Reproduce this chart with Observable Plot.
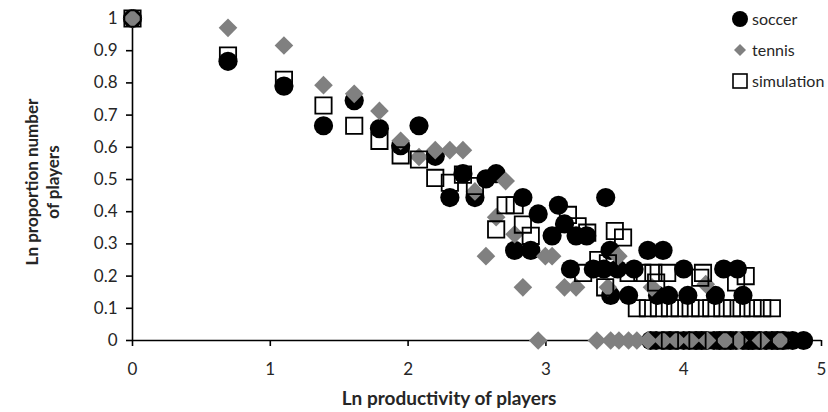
<!DOCTYPE html>
<html><head><meta charset="utf-8">
<script src="https://cdn.jsdelivr.net/npm/d3@7"></script>
<script src="https://cdn.jsdelivr.net/npm/@observablehq/plot@0.6"></script>
<style>
body{margin:0;background:#fff;}
#wrap{position:relative;width:828px;height:412px;font-family:Lato,sans-serif;color:#262626;}
#wrap svg [aria-label$="tick"] path{stroke-width:1.6px;stroke:#000;}
.ytitle{position:absolute;left:42px;top:182px;transform:translate(-50%,-50%) rotate(-90deg);font-weight:bold;font-size:17px;text-align:center;line-height:21px;white-space:nowrap;}
.xtitle{position:absolute;left:449px;top:397px;transform:translate(-50%,-50%);font-weight:bold;font-size:19px;white-space:nowrap;}
.legend{position:absolute;left:730px;top:3px;font-size:16px;}
.legend div{height:31px;display:flex;align-items:center;}
.legend svg{margin-right:2px;}
</style></head>
<body>
<div id="wrap"></div>
<script>
// soccer (black circles)
const soccerX = [0,0.693,1.099,1.386,1.609,1.792,1.946,2.079,2.197,2.303,2.398,2.485,2.565,2.639,2.773,2.833,2.890,2.944,3.045,3.091,3.135,3.178,3.219,3.296,3.344,3.420,3.434,3.466,3.520,3.470,3.600,3.640,3.740,3.850,3.810,3.890,4.000,4.030,4.230,4.290,4.390,4.430,
  3.76,3.80,3.85,3.90,3.95,4.00,4.04,4.09,4.13,4.17,4.22,4.26,4.30,4.34,4.38,4.43,4.47,4.50,4.55,4.60,4.64,4.68,4.72,4.79,4.87];
const soccerY = [1,0.867,0.79,0.667,0.745,0.658,0.605,0.667,0.572,0.444,0.518,0.444,0.502,0.518,0.28,0.444,0.28,0.393,0.325,0.42,0.362,0.222,0.325,0.325,0.222,0.222,0.444,0.28,0.222,0.14,0.14,0.222,0.28,0.28,0.14,0.14,0.222,0.14,0.14,0.222,0.222,0.14,
  0,0,0,0,0,0,0,0,0,0,0,0,0,0,0,0,0,0,0,0,0,0,0,0,0];
// tennis (grey diamonds)
const tennisX = [0,0.693,1.099,1.386,1.609,1.792,1.946,2.079,2.197,2.303,2.398,2.485,2.565,2.639,2.708,2.773,2.833,2.944,2.996,3.045,3.135,3.219,3.450,3.526,3.770,4.160,
  3.37,3.47,3.53,3.60,3.66,3.74,3.85,3.95,4.05,4.17,4.30,4.40,4.56,4.70];
const tennisY = [1,0.971,0.916,0.793,0.766,0.713,0.62,0.57,0.591,0.591,0.591,0.463,0.262,0.383,0.495,0.33,0.165,0,0.262,0.262,0.165,0.165,0.165,0.262,0.165,0.175,
  0,0,0,0,0,0,0,0,0,0,0,0,0,0];
// simulation (open squares)
const simX = [0,0.693,1.099,1.386,1.609,1.792,1.946,2.079,2.197,2.303,2.398,2.485,2.639,2.708,2.773,2.833,2.890,3.160,3.230,3.300,3.270,3.380,3.430,3.450,3.500,3.560,3.600,3.700,3.780,3.800,3.880,4.120,4.140,4.380,4.450,
  3.66,3.74,3.82,3.90,3.97,4.05,4.12,4.20,4.28,4.35,4.42,4.50,4.57,4.64,
  3.90,4.10,4.30,4.50,4.70];
const simY = [1,0.885,0.81,0.73,0.667,0.62,0.575,0.562,0.505,0.49,0.515,0.48,0.345,0.42,0.42,0.36,0.325,0.39,0.355,0.335,0.21,0.25,0.165,0.24,0.34,0.32,0.21,0.21,0.21,0.18,0.21,0.195,0.21,0.18,0.2,
  0.1,0.1,0.1,0.1,0.1,0.1,0.1,0.1,0.1,0.1,0.1,0.1,0.1,0.1,
  0,0,0,0,0];
const xTicks = [0,1,2,3,4,5];
const yTicks = [0,0.1,0.2,0.3,0.4,0.5,0.6,0.7,0.8,0.9,1];
const seriesNames = ["soccer","tennis","simulation"];

const soccer = soccerX.map((x,i)=>({x, y: soccerY[i]}));
const tennis = tennisX.map((x,i)=>({x, y: tennisY[i]}));
const sim = simX.map((x,i)=>({x, y: simY[i]}));

const chart = Plot.plot({
  width: 828, height: 412,
  marginTop: 18, marginBottom: 72, marginLeft: 132, marginRight: 7,
  style: {fontFamily: "Lato, sans-serif", fontSize: "17px", color: "#262626", background: "transparent", overflow: "visible"},
  x: {domain: [0,5], ticks: xTicks, tickSize: 6, tickPadding: 16, label: null, tickFormat: d => String(d)},
  y: {domain: [0,1], ticks: yTicks, tickSize: 6, tickPadding: 9, label: null, tickFormat: d => (d === 0 ? "0" : d === 1 ? "1" : d.toFixed(1))},
  marks: [
    Plot.ruleY([0], {stroke: "#000", strokeWidth: 1.6}),
    Plot.ruleX([0], {stroke: "#000", strokeWidth: 1.6}),
    Plot.dot(soccer, {x: "x", y: "y", r: 9.6, fill: "#000", symbol: "circle"}),
    Plot.dot(tennis, {x: "x", y: "y", r: 8.4, fill: "#808080", symbol: "diamond2"}),
    Plot.dot(sim, {x: "x", y: "y", r: 9.2, fill: "none", stroke: "#000", strokeWidth: 1.8, symbol: "square"})
  ]
});
const wrap = document.getElementById("wrap");
wrap.appendChild(chart);

const yt = document.createElement("div");
yt.className = "ytitle";
yt.innerHTML = "Ln proportion number<br>of players";
wrap.appendChild(yt);
const xt = document.createElement("div");
xt.className = "xtitle";
xt.textContent = "Ln productivity of players";
wrap.appendChild(xt);

const lg = document.createElement("div");
lg.className = "legend";
const markers = [
  '<svg width="20" height="20"><circle cx="10" cy="10" r="8" fill="#000"/></svg>',
  '<svg width="20" height="20"><path d="M10,4L16,10L10,16L4,10Z" fill="#808080"/></svg>',
  '<svg width="20" height="20"><rect x="3" y="3" width="14" height="14" fill="none" stroke="#000" stroke-width="1.6"/></svg>'
];
seriesNames.forEach((n,i)=>{
  const row = document.createElement("div");
  row.innerHTML = markers[i] + "<span>" + n + "</span>";
  lg.appendChild(row);
});
wrap.appendChild(lg);
</script>
</body></html>
